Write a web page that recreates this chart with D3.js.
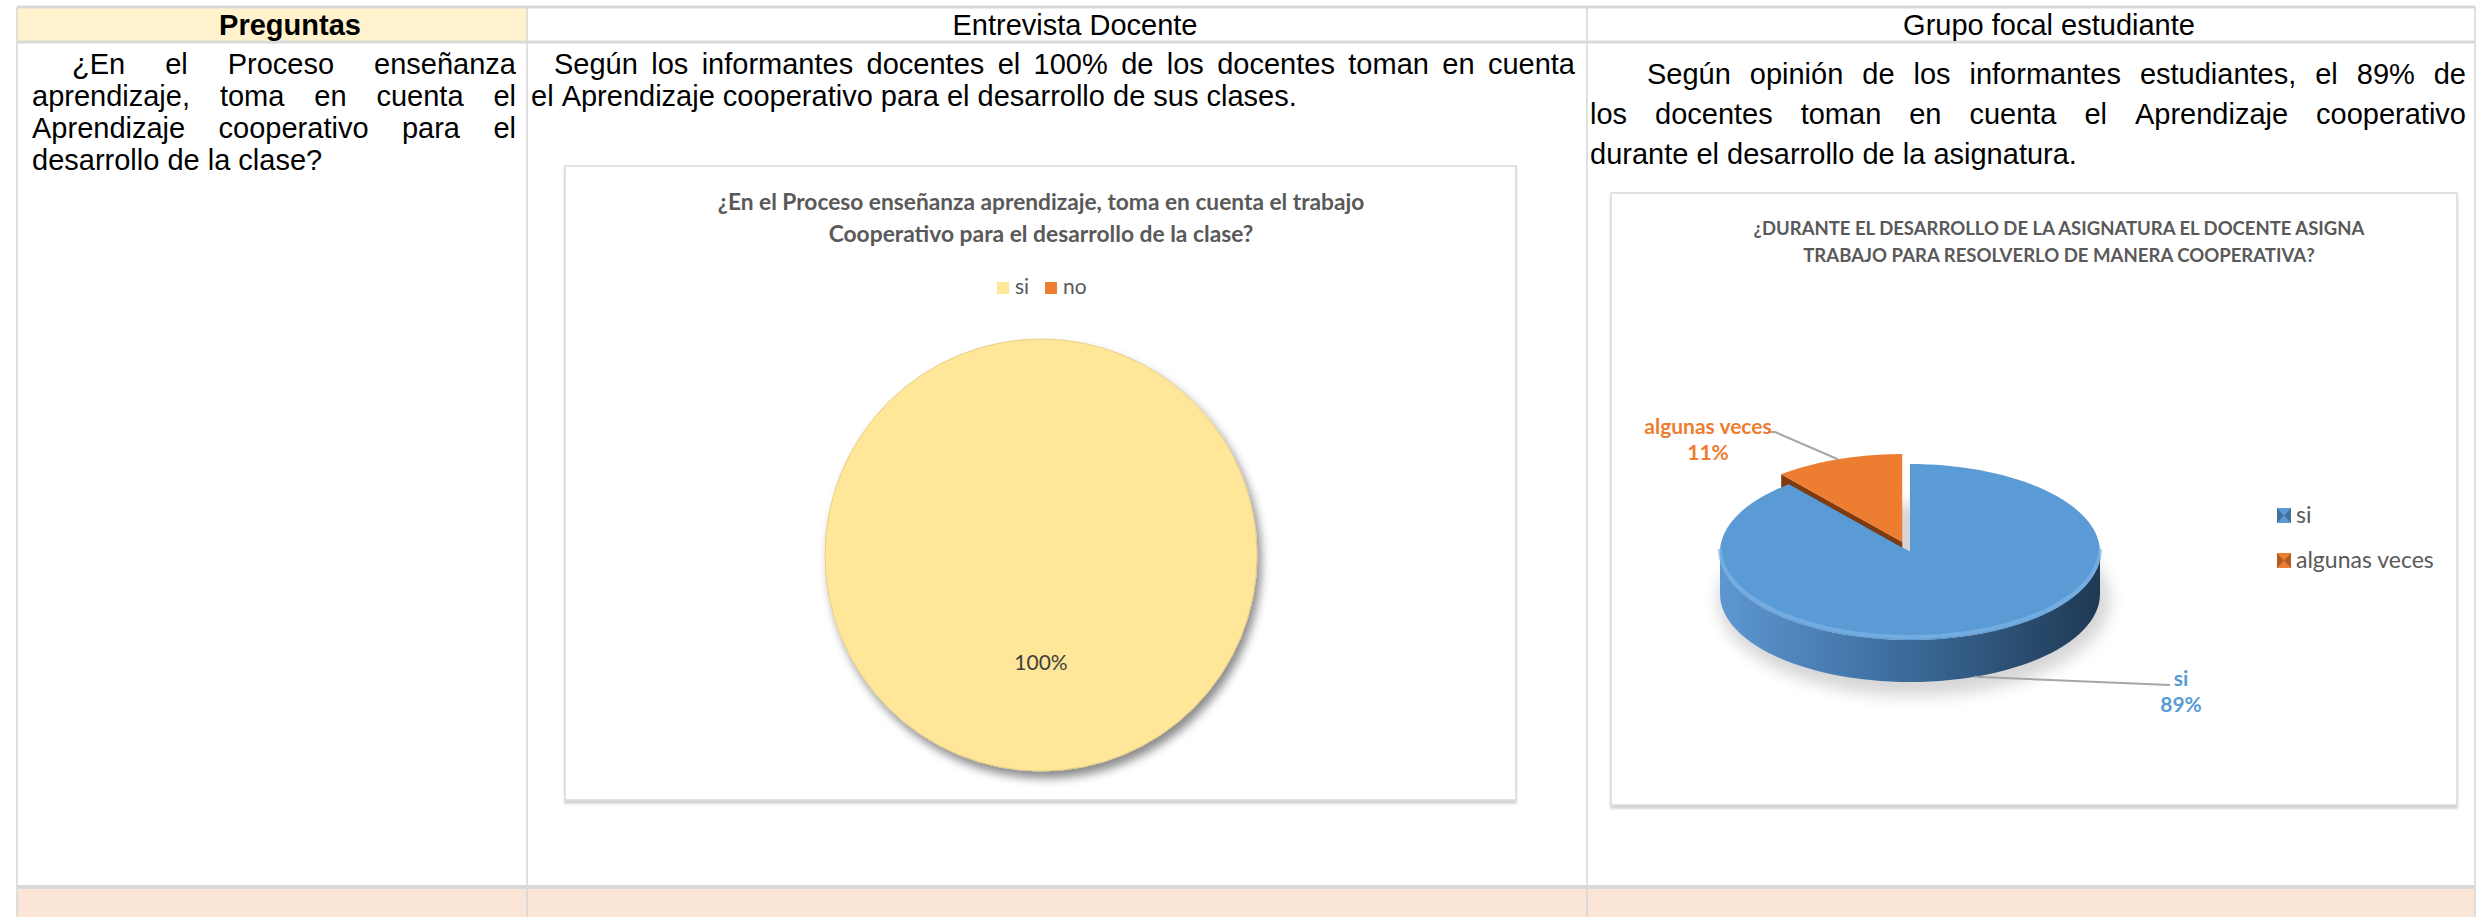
<!DOCTYPE html>
<html>
<head>
<meta charset="utf-8">
<script src="https://cdn.jsdelivr.net/npm/d3@7"></script>
<style>
	body { margin: 0; background: #fff; }
	svg { display: block; }
</style>
</head>
<body>
<div id="container"></div>
<script>
// 1. Access the data
const headers = ["Preguntas", "Entrevista Docente", "Grupo focal estudiante"]
const preguntaLines = [
	"¿En el Proceso enseñanza",
	"aprendizaje, toma en cuenta el",
	"Aprendizaje cooperativo para el",
	"desarrollo de la clase?",
]
const docenteLines = [
	"Según los informantes docentes el 100% de los docentes toman en cuenta",
	"el Aprendizaje cooperativo para el desarrollo de sus clases.",
]
const estudianteLines = [
	"Según opinión de los informantes estudiantes, el 89% de",
	"los docentes toman en cuenta el Aprendizaje cooperativo",
	"durante el desarrollo de la asignatura.",
]

const docenteTitle = [
	"¿En el Proceso enseñanza aprendizaje, toma en cuenta el trabajo",
	"Cooperativo para el desarrollo de la clase?",
]
const docenteCategories = ["si", "no"]
const docenteValues = [100, 0]

const estudianteTitle = [
	"¿DURANTE EL DESARROLLO DE LA ASIGNATURA EL DOCENTE ASIGNA",
	"TRABAJO PARA RESOLVERLO DE MANERA COOPERATIVA?",
]
const estudianteCategories = ["si", "algunas veces"]
const estudianteValues = [89, 11]

// 2. Create chart dimensions
const width = 2483
const height = 917
const colX = [17, 527, 1587, 2475]
const rowY = [7, 42, 887, 930]
const bodyFont = "'Liberation Sans', Arial, sans-serif"
const chartFont = "Lato, 'Open Sans', sans-serif"

// 3. Draw canvas
const svg = d3.select("#container")
	.append("svg")
	.attr("width", width)
	.attr("height", height)
	.attr("viewBox", [0, 0, width, height])

const defs = svg.append("defs")

defs.append("filter")
	.attr("id", "pieShadow")
	.attr("x", "-20%").attr("y", "-20%")
	.attr("width", "140%").attr("height", "140%")
	.append("feDropShadow")
	.attr("dx", 4).attr("dy", 7)
	.attr("stdDeviation", 5)
	.attr("flood-color", "#000")
	.attr("flood-opacity", 0.45)

defs.append("filter")
	.attr("id", "boxShadow")
	.attr("x", "-5%").attr("y", "-5%")
	.attr("width", "110%").attr("height", "110%")
	.append("feDropShadow")
	.attr("dx", 0).attr("dy", 3)
	.attr("stdDeviation", 1.2)
	.attr("flood-color", "#000")
	.attr("flood-opacity", 0.18)

defs.append("filter")
	.attr("id", "blur8")
	.append("feGaussianBlur")
	.attr("stdDeviation", 8)

const wallGradient = defs.append("linearGradient")
	.attr("id", "wallBlue")
	.attr("gradientUnits", "userSpaceOnUse")
	.attr("x1", 1720).attr("x2", 2100)
	.attr("y1", 0).attr("y2", 0)
wallGradient.selectAll("stop")
	.data([["0%", "#5d97d2"], ["45%", "#3e6e9f"], ["100%", "#1e3954"]])
	.join("stop")
	.attr("offset", d => d[0])
	.attr("stop-color", d => d[1])

const bounds = svg.append("g")

// table backgrounds
bounds.append("rect")
	.attr("x", colX[0]).attr("y", rowY[0])
	.attr("width", colX[1] - colX[0]).attr("height", rowY[1] - rowY[0])
	.attr("fill", "#fff2cc")

bounds.append("rect")
	.attr("x", colX[0]).attr("y", rowY[2])
	.attr("width", colX[3] - colX[0]).attr("height", rowY[3] - rowY[2])
	.attr("fill", "#fbe5d6")

// table grid
bounds.selectAll(".vline")
	.data(colX)
	.join("line")
	.attr("class", "vline")
	.attr("x1", d => d).attr("x2", d => d)
	.attr("y1", rowY[0]).attr("y2", height)
	.attr("stroke", "#d6d6d6")
	.attr("stroke-width", 1.5)

bounds.selectAll(".hline")
	.data(rowY.slice(0, 3))
	.join("line")
	.attr("class", "hline")
	.attr("x1", colX[0]).attr("x2", colX[3])
	.attr("y1", d => d).attr("y2", d => d)
	.attr("stroke", "#d9d9d9")
	.attr("stroke-width", (d, i) => i === 2 ? 4 : 3)

// header texts
bounds.selectAll(".header")
	.data(headers)
	.join("text")
	.attr("class", "header")
	.attr("x", (d, i) => (colX[i] + colX[i + 1]) / 2 + 18)
	.attr("y", 35)
	.attr("text-anchor", "middle")
	.style("font-family", bodyFont)
	.style("font-size", "29px")
	.style("font-weight", (d, i) => i === 0 ? "bold" : "normal")
	.text(d => d)

paragraph(bounds, preguntaLines, { left: 32, right: 516, indent: 40, top: 74, lineHeight: 32 })
paragraph(bounds, docenteLines, { left: 531, right: 1575, indent: 23, top: 74, lineHeight: 32 })
paragraph(bounds, estudianteLines, { left: 1590, right: 2466, indent: 57, top: 84, lineHeight: 40 })

// 4. Chart 1: docente pie
const docenteData = docenteCategories.map((c, i) => ({ category: c, value: docenteValues[i] }))
const docenteColor = d3.scaleOrdinal()
	.domain(docenteCategories)
	.range(["#ffe699", "#ed7d31"])

const chart1 = bounds.append("g")
chartBox(chart1, 565, 166, 951, 634)
chartTitle(chart1, docenteTitle, 1041, [210, 242], [647, 425])

const legend1 = chart1.append("g")
	.selectAll("g")
	.data(docenteCategories)
	.join("g")
	.attr("transform", (d, i) => `translate(${997 + i * 48}, 282)`)
legend1.append("rect")
	.attr("width", 12).attr("height", 12)
	.attr("fill", d => docenteColor(d))
legend1.append("text")
	.attr("x", 18).attr("y", 12)
	.style("font-family", chartFont)
	.style("font-size", "21px")
	.attr("fill", "#595959")
	.text(d => d)

const pie1 = d3.pie().sort(null).value(d => d.value)
const arc1 = d3.arc().innerRadius(0).outerRadius(216)
const slices1 = pie1(docenteData).filter(d => d.value > 0)
const pie1Group = chart1.append("g")
	.attr("transform", "translate(1041, 555)")

pie1Group.selectAll("path")
	.data(slices1)
	.join("path")
	.attr("d", arc1)
	.attr("fill", d => docenteColor(d.data.category))
	.attr("stroke", "#e8cf86")
	.attr("stroke-width", 1)
	.attr("filter", "url(#pieShadow)")

const total1 = d3.sum(docenteValues)
pie1Group.selectAll(".label")
	.data(slices1)
	.join("text")
	.attr("class", "label")
	.attr("transform", d => `translate(${arc1.centroid(d)})`)
	.attr("dy", "0.35em")
	.attr("text-anchor", "middle")
	.style("font-family", chartFont)
	.style("font-size", "21px")
	.attr("fill", "#404040")
	.text(d => d3.format(".0%")(d.value / total1))

// 5. Chart 2: estudiante 3D pie
const estudianteData = estudianteCategories.map((c, i) => ({ category: c, value: estudianteValues[i] }))
const estudianteColor = d3.scaleOrdinal()
	.domain(estudianteCategories)
	.range(["#5b9bd5", "#ed7d31"])
const sideColor = d3.scaleOrdinal()
	.domain(estudianteCategories)
	.range(["url(#wallBlue)", "#7f3a0d"])

const chart2 = bounds.append("g")
chartBox(chart2, 1611, 193, 846, 612)
chartTitle(chart2, estudianteTitle, 2059, [235, 262], [611, 512])

const pie3d = { cx: 1910, cy: 552, rx: 190, ry: 88, depth: 42, explode: 0.12 }
const slices2 = d3.pie().sort(null).value(d => d.value)(estudianteData)
const total2 = d3.sum(estudianteValues)

// soft shadow under the pie
chart2.append("ellipse")
	.attr("cx", pie3d.cx + 4).attr("cy", pie3d.cy + pie3d.depth + 6)
	.attr("rx", pie3d.rx + 6).attr("ry", pie3d.ry + 8)
	.attr("fill", "#000")
	.attr("opacity", 0.16)
	.attr("filter", "url(#blur8)")

const slice2Groups = chart2.selectAll(".slice3d")
	.data(slices2.slice().reverse())
	.join("g")
	.attr("class", "slice3d")

slice2Groups.each(function (d) {
	const g = d3.select(this)
	const off = offsetOf(d)
	const center = project(0, 0, off, true)
	// radial faces
	;[d.startAngle, d.endAngle].forEach(a => {
		const p = project(a, 0, off)
		g.append("path")
			.attr("d", d3.line()([center, p, [p[0], p[1] + pie3d.depth], [center[0], center[1] + pie3d.depth]]) + "Z")
			.attr("fill", d.data.category === "si" ? "#2c5078" : "#7f3a0d")
	})
	// outer wall (front half only)
	const lo = Math.max(d.startAngle, Math.PI / 2)
	const hi = Math.min(d.endAngle, Math.PI * 1.5)
	if (hi > lo) {
		const top = d3.range(61).map(i => project(lo + (hi - lo) * i / 60, 0, off))
		const bottom = top.map(p => [p[0], p[1] + pie3d.depth]).reverse()
		g.append("path")
			.attr("d", d3.line()(top.concat(bottom)) + "Z")
			.attr("fill", sideColor(d.data.category))
	}
	// top face
	const rim = d3.range(121).map(i => project(d.startAngle + (d.endAngle - d.startAngle) * i / 120, 0, off))
	g.append("path")
		.attr("d", d3.line()([center].concat(rim)) + "Z")
		.attr("fill", estudianteColor(d.data.category))
	// light bevel on the front rim
	if (hi > lo) {
		const edge = d3.range(61).map(i => project(lo + (hi - lo) * i / 60, -3, off))
		g.append("path")
			.attr("d", d3.line().curve(d3.curveBasis)(edge))
			.attr("fill", "none")
			.attr("stroke", "#7db4e6")
			.attr("stroke-width", 4)
			.attr("opacity", 0.7)
	}
})

// data labels with leader lines
const labelPos = {
	"si": { x: 2181, y: 686, line: [[2170, 685]] },
	"algunas veces": { x: 1708, y: 434, line: [[1775, 432], [1768, 432]] },
}
const labels2 = chart2.selectAll(".label3d")
	.data(slices2)
	.join("g")
	.attr("class", "label3d")

labels2.append("path")
	.attr("d", d => {
		const mid = (d.startAngle + d.endAngle) / 2
		const onFront = Math.cos(mid) < 0
		const p = project(mid, onFront ? pie3d.depth : 0, offsetOf(d))
		return d3.line()([p].concat(labelPos[d.data.category].line))
	})
	.attr("fill", "none")
	.attr("stroke", "#a6a6a6")
	.attr("stroke-width", 2)

labels2.append("text")
	.attr("x", d => labelPos[d.data.category].x)
	.attr("y", d => labelPos[d.data.category].y)
	.attr("text-anchor", "middle")
	.style("font-family", chartFont)
	.style("font-size", "21px")
	.style("font-weight", "bold")
	.attr("fill", d => estudianteColor(d.data.category))
	.selectAll("tspan")
	.data(d => [d.data.category, d3.format(".0%")(d.value / total2)])
	.join("tspan")
	.attr("x", function () { return this.parentNode.getAttribute("x") })
	.attr("dy", (d, i) => i === 0 ? 0 : 26)
	.text(d => d)

// 6. Draw peripherals: chart 2 legend
const legend2 = chart2.append("g")
	.selectAll("g")
	.data(estudianteCategories)
	.join("g")
	.attr("transform", (d, i) => `translate(2277, ${508 + i * 45})`)

legend2.append("rect")
	.attr("width", 14).attr("height", 15)
	.attr("fill", d => estudianteColor(d))
legend2.append("path")
	.attr("d", "M0,0 L7,7.5 L0,15 Z M14,0 L7,7.5 L14,15 Z")
	.attr("fill", d => d3.color(estudianteColor(d)).darker(1.2))
	.attr("opacity", 0.75)
legend2.append("text")
	.attr("x", 19).attr("y", 15)
	.style("font-family", chartFont)
	.style("font-size", "23px")
	.attr("fill", "#595959")
	.text(d => d)

// Utilities

function offsetOf(d) {
	if (d.data.category !== "algunas veces") return [0, 0]
	const mid = (d.startAngle + d.endAngle) / 2
	return [pie3d.explode * pie3d.rx * Math.sin(mid), -pie3d.explode * pie3d.ry * Math.cos(mid)]
}

function project(a, dz, off, isCenter) {
	if (isCenter) return [pie3d.cx + off[0], pie3d.cy + off[1] + dz]
	return [
		pie3d.cx + off[0] + pie3d.rx * Math.sin(a),
		pie3d.cy + off[1] - pie3d.ry * Math.cos(a) + dz,
	]
}

function chartBox(g, x, y, w, h) {
	g.append("rect")
		.attr("x", x).attr("y", y)
		.attr("width", w).attr("height", h)
		.attr("fill", "#fff")
		.attr("stroke", "#d9d9d9")
		.attr("stroke-width", 1.5)
		.attr("filter", "url(#boxShadow)")
}

function chartTitle(g, lines, cx, ys, widths) {
	g.selectAll(".title")
		.data(lines)
		.join("text")
		.attr("class", "title")
		.attr("x", cx)
		.attr("y", (d, i) => ys[i])
		.attr("text-anchor", "middle")
		.style("font-family", chartFont)
		.style("font-size", "20px")
		.style("font-weight", "bold")
		.attr("fill", "#595959")
		.text(d => d)
		.each(function (d, i) {
			const w = this.getComputedTextLength()
			d3.select(this).style("font-size", `${20 * widths[i] / w}px`)
		})
}

// justified paragraph, word by word
function paragraph(g, lines, { left, right, indent, top, lineHeight }) {
	const size = 29
	const space = 0.278 * size
	lines.forEach((line, i) => {
		const words = line.split(" ")
		const x0 = i === 0 ? left + indent : left
		const isLast = i === lines.length - 1
		const nodes = words.map(w => g.append("text")
			.attr("y", top + i * lineHeight)
			.style("font-family", bodyFont)
			.style("font-size", `${size}px`)
			.attr("fill", "#000")
			.text(w))
		const lengths = nodes.map(n => n.node().getComputedTextLength())
		const gap = isLast ? space : (right - x0 - d3.sum(lengths)) / (words.length - 1)
		let x = x0
		nodes.forEach((n, j) => {
			n.attr("x", x)
			x += lengths[j] + gap
		})
	})
}
</script>
</body>
</html>
